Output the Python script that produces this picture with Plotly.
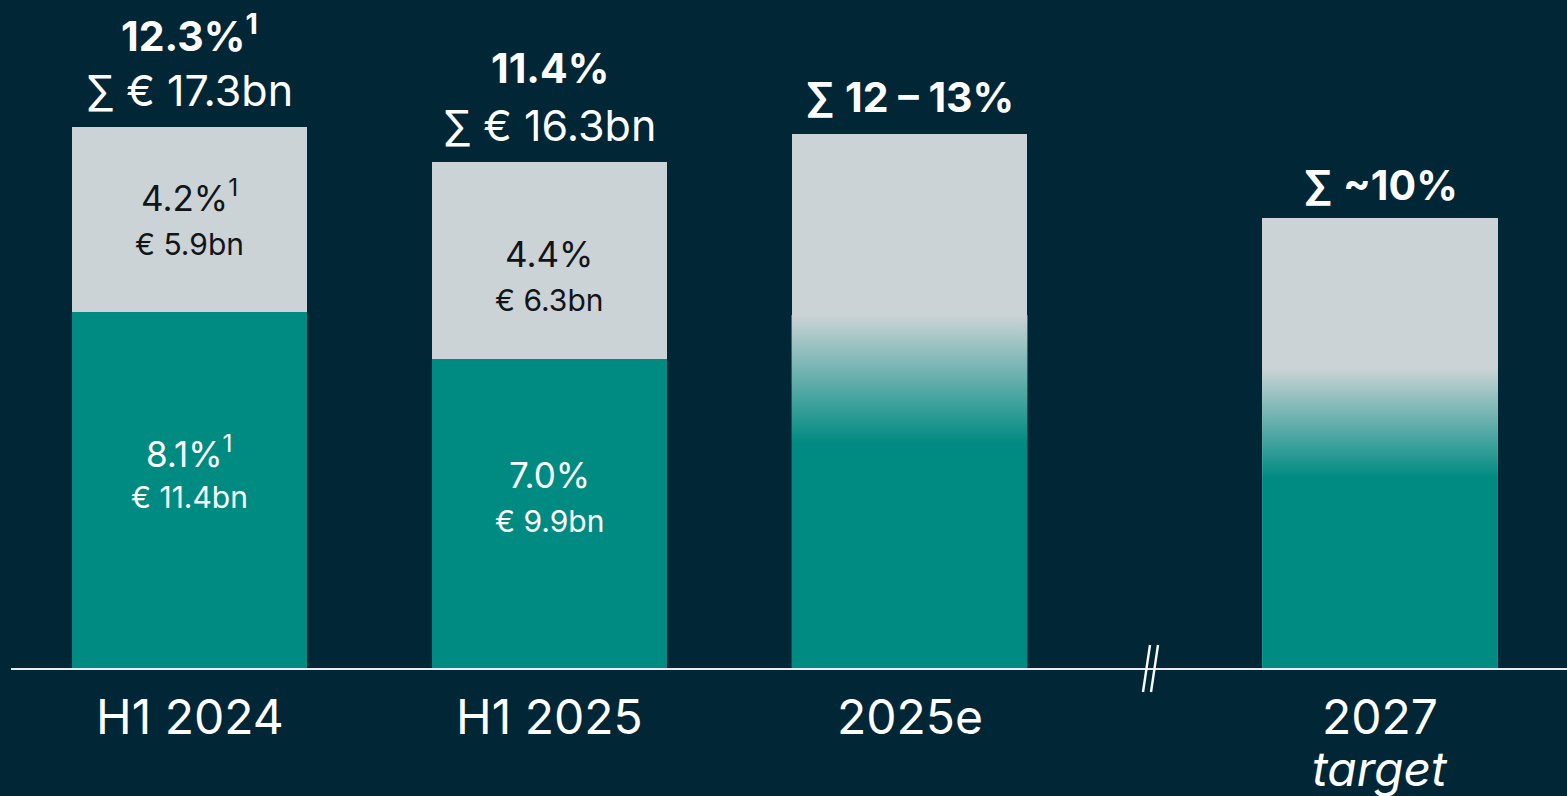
import plotly.graph_objects as go

# ---- data -----------------------------------------------------------------
categories = ["H1 2024", "H1 2025", "2025e", "2027"]
category_sub = ["", "", "", "target"]
x_pos = [0, 1, 2, 3.307]                       # extra gap before the 2027 target

base_bn = [11.4, 9.9, None, None]              # lower (teal) segment, EUR bn
top_bn = [5.9, 6.3, None, None]                # upper (grey) segment, EUR bn
total_bn = [17.3, 16.3, None, None]
outlook_bn = [None, None, 17.1, 14.4]          # bar height of outlook columns

base_pct = ["8.1%<sup>1</sup>", "7.0%", None, None]
top_pct = ["4.2%<sup>1</sup>", "4.4%", None, None]
total_pct = ["12.3%<sup>1</sup>", "11.4%", "∑ 12 – 13%", "∑ ~10%"]

# ---- style ----------------------------------------------------------------
BG = "#012636"
TEAL = "#008B82"
GREY = "#CBD3D6"
WHITE = "#FFFFFF"
DARK = "#111518"
FONT = "Inter"
BAR_W = 0.655
PX_PER_BN = 31.25
PLOT_H = 668
W, H = 1567, 796
# gradient band (bottom fully teal -> top fully grey) for the outlook columns, EUR bn
GRAD_BAND = {2: (7.2, 11.3), 3: (6.1, 9.6)}

fig = go.Figure()

fig.add_trace(go.Bar(x=x_pos, y=base_bn, width=BAR_W, marker=dict(color=TEAL, line=dict(width=0)),
                     hoverinfo="skip", showlegend=False))
fig.add_trace(go.Bar(x=x_pos, y=top_bn, width=BAR_W, marker=dict(color=GREY, line=dict(width=0)),
                     hoverinfo="skip", showlegend=False))
fig.add_trace(go.Bar(x=x_pos, y=outlook_bn, width=BAR_W, marker=dict(color=GREY, line=dict(width=0)),
                     hoverinfo="skip", showlegend=False))

# teal-to-grey fade on the outlook columns
for i, (lo, hi) in GRAD_BAND.items():
    xc = x_pos[i]
    x0, x1 = xc - BAR_W / 2, xc + BAR_W / 2
    fig.add_trace(go.Scatter(
        x=[x0, x1, x1, x0, x0], y=[0, 0, hi, hi, 0],
        mode="lines", line=dict(width=0), fill="toself",
        fillgradient=dict(type="vertical", start=0, stop=hi,
                          colorscale=[[0, TEAL], [lo / hi, TEAL], [1, GREY]]),
        hoverinfo="skip", showlegend=False))

ann = []


def label(x, y, text, size, color, shift, bold=False, italic=False):
    if bold:
        text = f"<b>{text}</b>"
    if italic:
        text = f"<i>{text}</i>"
    ann.append(dict(x=x, y=y, xref="x", yref="y", text=text, showarrow=False,
                    font=dict(family=FONT, size=size, color=color),
                    yanchor="middle", xanchor="center", yshift=shift))


for i, xc in enumerate(x_pos):
    if base_bn[i] is not None:
        total = base_bn[i] + top_bn[i]
        # totals above the bar
        label(xc, total, total_pct[i], 41, WHITE, 94, bold=True)
        label(xc, total, f"∑ € {total_bn[i]:.1f}bn", 43, WHITE, 37)
        # upper segment
        mid_top = base_bn[i] + top_bn[i] / 2
        label(xc, mid_top, top_pct[i], 35, DARK, [24, 6][i])
        label(xc, mid_top, f"€ {top_bn[i]:.1f}bn", 30, DARK, [-24, -40][i])
        # lower segment
        mid_base = base_bn[i] / 2
        label(xc, mid_base, base_pct[i], 35, WHITE, [38, 38][i])
        label(xc, mid_base, f"€ {base_bn[i]:.1f}bn", 30, WHITE, [-7, -8][i])
    else:
        label(xc, outlook_bn[i], total_pct[i], 41, WHITE, [0, 0, 37, 33][i], bold=True)

    # category labels below the axis
    label(xc, 0, categories[i], 48, WHITE, -48)
    if category_sub[i]:
        label(xc, 0, category_sub[i], 48, WHITE, -100, italic=True)

# baseline and axis break marks (paper coordinates, from pixel positions)
def px(x):
    return x / W


def py(y):
    return (PLOT_H - y) / PLOT_H


shapes = [
    dict(type="line", xref="paper", yref="paper", x0=px(11), x1=1, y0=py(669), y1=py(669),
         line=dict(color="#E8ECEE", width=2.2), layer="above"),
]
for off in (0, 8):
    shapes.append(dict(type="line", xref="paper", yref="paper",
                       x0=px(1143 + off), x1=px(1150 + off),
                       y0=py(692), y1=py(645),
                       line=dict(color=WHITE, width=2.4), layer="above"))

x_left = -189.5 / 360
x_right = (W - 189.5) / 360

fig.update_layout(
    width=W, height=H,
    margin=dict(l=0, r=0, t=0, b=H - PLOT_H, pad=0),
    paper_bgcolor=BG, plot_bgcolor=BG,
    barmode="stack", bargap=0,
    xaxis=dict(range=[x_left, x_right], visible=False, fixedrange=True),
    yaxis=dict(range=[0, PLOT_H / PX_PER_BN], visible=False, fixedrange=True),
    annotations=ann, shapes=shapes,
    font=dict(family=FONT, color=WHITE),
)

fig.write_html("out.html")
